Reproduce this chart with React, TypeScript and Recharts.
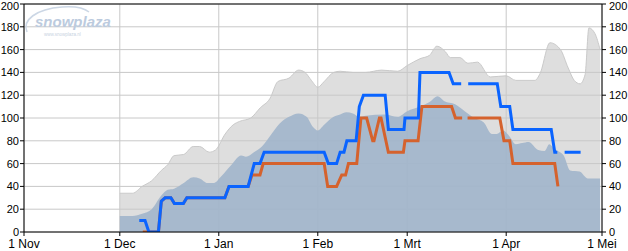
import React from 'react';
import {
  ComposedChart, Area, Line, XAxis, YAxis, CartesianGrid, ReferenceLine,
} from 'recharts';

// x = days since 1 Nov
const monthDays = [0, 30, 61, 92, 120, 151, 181];
const monthLabels = ['1 Nov', '1 Dec', '1 Jan', '1 Feb', '1 Mrt', '1 Apr', '1 Mei'];
const depthTicks = [0, 20, 40, 60, 80, 100, 120, 140, 160, 180, 200];

// light grey band (max)
const maxDays = [30, 34, 37, 40, 43, 45, 47, 50, 53, 55, 58, 60, 63, 65.5, 67.5, 71, 74, 77, 79.5, 83,
  86, 88, 90, 92, 94, 97, 99, 103, 107, 112, 117, 120, 124, 127, 129.3, 132, 133.5, 136.5, 139, 142,
  146, 151, 154, 160, 161.6, 164.7, 168, 170.4, 172.3, 174.1, 175.7, 176.9, 178.8, 180.4];
const maxDepth = [34, 34, 40, 45, 54, 59, 67, 68, 75, 75, 70, 72, 86, 94, 97, 100, 109, 117, 132, 135,
  142, 140, 133, 127, 132, 140, 141, 140, 140, 142, 141, 146, 152, 155, 163, 158, 153, 153, 148, 149,
  136, 137, 133, 133, 139, 166, 160, 144, 133, 130, 138, 179, 174, 160];

// blue-grey band (average)
const avgDays = [30, 34, 37, 40, 43, 45, 47, 50, 53, 55, 57.5, 59.5, 61.5, 65, 68, 69.5, 72, 74.5, 77, 80,
  83, 86, 88.5, 90.5, 92, 94, 97, 99, 101, 103, 105, 107, 113, 117, 120, 124, 127, 129.5, 131.5, 135,
  138, 141, 144, 146.5, 148, 150, 152, 154, 156, 158, 161, 163, 164.5, 166, 169, 171, 174, 176.5, 180.4];
const avgDepth = [14, 14, 16, 20, 32, 37, 38, 43, 48, 47, 43, 43, 48, 59, 67, 66, 70, 75, 84, 95,
  101, 104, 101, 92, 89, 94, 101, 103, 105, 104, 101, 102, 103, 101, 106, 110, 114, 119, 115, 112,
  106, 100, 96, 86, 86, 89, 84, 77, 78, 79, 72, 71, 77, 73, 67, 54, 53, 47, 47];

// mountain (blue line)
const upperDays = [36.1, 37.9, 39.1, 42.1, 43, 44.2, 46, 47.1, 49.9, 51, 62.9, 64.2, 70.2, 72.1, 73.9, 75.2,
  94, 95.3, 97.9, 99, 100.2, 101.1, 104, 105, 106.3, 113.1, 114.1, 119, 119.3, 123.5, 124, 133.1, 134.4,
  136.9, 138, 139.1, 148.2, 149.3, 152.1, 153.1, 165.1, 166.2, 167, 168, 169.3, 174.3];
const upperDepth = [10, 10, 0, 0, 27, 30, 30, 25, 25, 30, 30, 40, 40, 60, 60, 70,
  70, 60, 60, 70, 70, 80, 80, 110, 120, 120, 90, 90, 100, 100, 140, 140, 130,
  130, null, 130, 130, 110, 110, 90, 90, 70, 70, null, 70, 70];

// valley (orange line)
const lowerDays = [37.2, 42.1, 43, 44.2, 46, 47.1, 49.9, 51, 62.9, 64.2, 70.2, 71.4, 73.9, 74.9,
  94, 95.1, 97.9, 99.5, 100.7, 101.6, 104.2, 105.5, 107.3, 109.2, 109.6, 111.3, 111.8, 114.1,
  118.8, 119.3, 123.4, 124.6, 133.9, 135.1, 137.2, 138, 138.9, 149, 150.3, 152.1, 153.1, 166.2, 167.2];
const lowerDepth = [0, 0, 27, 30, 30, 25, 25, 30, 30, 40, 40, 50, 50, 60,
  60, 40, 40, 50, 50, 60, 60, 100, 100, 80, 80, 100, 100, 70,
  70, 80, 80, 110, 110, 100, 100, null, 100, 100, 80, 80, 60, 60, 40];

const toPoints = (days: number[], vals: (number | null)[]) =>
  days.map((d, i) => ({ day: d, v: vals[i] }));

const xTick = { fill: '#000', fontSize: 12, fontFamily: 'Liberation Sans' };

// y tick labels; the top one is nudged down a little so it stays inside the frame
const DepthTick = (props: any) => {
  const { x, y, payload, textAnchor } = props;
  const nudge = payload.value === 200 ? 2 : 0;
  return (
    <text
      x={x}
      y={y + nudge}
      dy="0.355em"
      textAnchor={textAnchor}
      fill="#000"
      fontSize={11}
      fontFamily="Liberation Sans"
    >
      {payload.value}
    </text>
  );
};

export default function App() {
  const label = (d: number) => monthLabels[monthDays.indexOf(d)] ?? '';

  return (
    <div style={{ position: 'fixed', left: 0, top: 0, width: 628, height: 251, background: '#fff' }}>
      <ComposedChart width={628} height={251} margin={{ top: 4, right: 0, bottom: 0, left: 0 }}>
        <XAxis
          dataKey="day"
          type="number"
          domain={[0, 181]}
          ticks={monthDays}
          tickFormatter={label}
          interval={0}
          allowDataOverflow
          height={19}
          tick={xTick}
          tickSize={4}
          tickMargin={3.5}
          axisLine={{ stroke: '#000' }}
          tickLine={{ stroke: '#000' }}
        />
        <YAxis
          yAxisId="left"
          type="number"
          domain={[0, 200]}
          ticks={depthTicks}
          interval={0}
          allowDataOverflow
          width={24}
          tick={DepthTick}
          tickSize={4}
          tickMargin={1}
          axisLine={{ stroke: '#000' }}
          tickLine={{ stroke: '#000' }}
        />
        <YAxis
          yAxisId="right"
          orientation="right"
          type="number"
          domain={[0, 200]}
          ticks={depthTicks}
          interval={0}
          allowDataOverflow
          width={26}
          tick={DepthTick}
          tickSize={4}
          tickMargin={3}
          axisLine={{ stroke: '#000' }}
          tickLine={{ stroke: '#000' }}
        />
        <Area
          yAxisId="left"
          data={toPoints(maxDays, maxDepth)}
          dataKey="v"
          type="monotone"
          fill="#dedede"
          fillOpacity={1}
          stroke="#cacaca"
          strokeWidth={1}
          isAnimationActive={false}
          zIndex={100}
        />
        <CartesianGrid stroke="#c8c8c8" yAxisId="left" zIndex={150} />
        <Area
          yAxisId="left"
          data={toPoints(avgDays, avgDepth)}
          dataKey="v"
          type="monotone"
          fill="#a2b5cb"
          fillOpacity={0.92}
          stroke="none"
          isAnimationActive={false}
          zIndex={200}
        />
        <Line
          yAxisId="left"
          data={toPoints(lowerDays, lowerDepth)}
          dataKey="v"
          type="linear"
          stroke="#d5622d"
          strokeWidth={3}
          dot={false}
          isAnimationActive={false}
          zIndex={400}
        />
        <Line
          yAxisId="left"
          data={toPoints(upperDays, upperDepth)}
          dataKey="v"
          type="linear"
          stroke="#0a64ff"
          strokeWidth={3}
          dot={false}
          isAnimationActive={false}
          zIndex={410}
        />
        <ReferenceLine yAxisId="left" y={200} stroke="#000" zIndex={500} />
      </ComposedChart>
      <svg
        width={120}
        height={45}
        style={{ position: 'absolute', left: 0, top: 0, pointerEvents: 'none' }}
      >
        <path d="M 27 32 C 22 20, 36 9, 62 7 C 74 6, 84 8, 89 12" fill="none" stroke="#ccd7e5" strokeWidth={1.6} />
        <text x={35} y={27} fontFamily="Liberation Sans" fontWeight="bold" fontStyle="italic" fontSize={15} fill="#bccbde">
          snowplaza
        </text>
        <text x={44} y={36} fontFamily="Liberation Sans" fontSize={4.5} fill="#c8d3e2">
          www.snowplaza.nl
        </text>
      </svg>
    </div>
  );
}
